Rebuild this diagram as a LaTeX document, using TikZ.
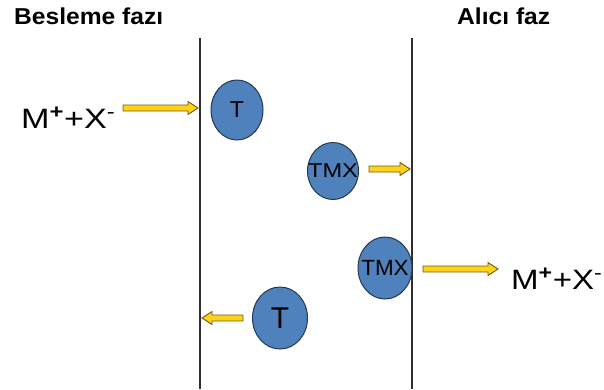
\documentclass[tikz,border=0pt]{standalone}
\usepackage{fontspec}
\setmainfont{Liberation Sans}
\usetikzlibrary{shapes.geometric,calc}
\definecolor{ballblue}{HTML}{4F81BD}
\definecolor{balledge}{HTML}{24384F}
\definecolor{arrowyellow}{HTML}{FFD21A}
\definecolor{arrowedge}{HTML}{6E5B12}
\definecolor{wallgray}{HTML}{2E2E2E}
\tikzset{
  carrier/.style={ellipse, fill=ballblue, draw=balledge, line width=1pt, inner sep=0pt, outer sep=0pt},
  wall/.style={draw=wallgray, line width=2pt},
  header/.style={inner sep=0pt, anchor=base west, font=\fontsize{23}{26}\selectfont\bfseries},
  ion/.style={inner sep=0pt, anchor=base west, font=\fontsize{28}{32}\selectfont},
  blockarrowstyle/.style={fill=arrowyellow, draw=arrowedge, line width=0.9pt, line join=miter}
}
\newcommand\blockarrow[2]{%
  \draw[blockarrowstyle] let \p1=(#1), \p2=(#2), \n1={((\x2>\x1)*2-1)} in
    (\x1,\y1+3pt) -- (\x2-\n1*10pt,\y1+3pt) -- (\x2-\n1*10pt,\y1+6.5pt) -- (\x2,\y1)
    -- (\x2-\n1*10pt,\y1-6.5pt) -- (\x2-\n1*10pt,\y1-3pt) -- (\x1,\y1-3pt) -- cycle;}
\begin{document}
\begin{tikzpicture}[x=1pt,y=-1pt]
\useasboundingbox (0,0) rectangle (604,389);
% walls
\draw[wall] (200,38) -- (200,389);
\draw[wall] (412,38) -- (412,389);
% headers
\node[header] (feed) at (14,24) {\scalebox{1.07}[1]{Besleme fazı}};
\node[header] (recv) at (457,24) {\scalebox{1.07}[1]{Alıcı faz}};
% ions
\node[ion] (ionL) at (21,128) {\scalebox{1.22}[1]{M\textsuperscript{\textbf{+}}+X\textsuperscript{-}}};
\node[ion] (ionR) at (511,289) {\scalebox{1.18}[1]{M\textsuperscript{\textbf{+}}+X\textsuperscript{-}}};
% carriers
\node[carrier, minimum width=52pt, minimum height=60pt,
      label={[font=\fontsize{23}{25}\selectfont]center:T}] (t1) at (237,110) {};
\node[carrier, minimum width=51pt, minimum height=57pt,
      label={[font=\fontsize{20}{22}\selectfont]center:\scalebox{1.18}[1]{TMX}}] (tmx1) at (333,171) {};
\node[carrier, minimum width=54pt, minimum height=62pt,
      label={[font=\fontsize{22}{25}\selectfont]center:\scalebox{1.02}[1]{TMX}}] (tmx2) at (385,268) {};
\node[carrier, minimum width=55pt, minimum height=62pt,
      label={[font=\fontsize{30}{34}\selectfont]center:T}] (t2) at (280,318) {};
% arrow end points
\coordinate (a1s) at (123,108); \coordinate (a1e) at (198,108);
\coordinate (a2s) at (369,169); \coordinate (a2e) at (410,169);
\coordinate (a3s) at (423,269); \coordinate (a3e) at (498,269);
\coordinate (a4s) at (243,318); \coordinate (a4e) at (202,318);
\blockarrow{a1s}{a1e}
\blockarrow{a2s}{a2e}
\blockarrow{a3s}{a3e}
\blockarrow{a4s}{a4e}
\end{tikzpicture}
\end{document}
